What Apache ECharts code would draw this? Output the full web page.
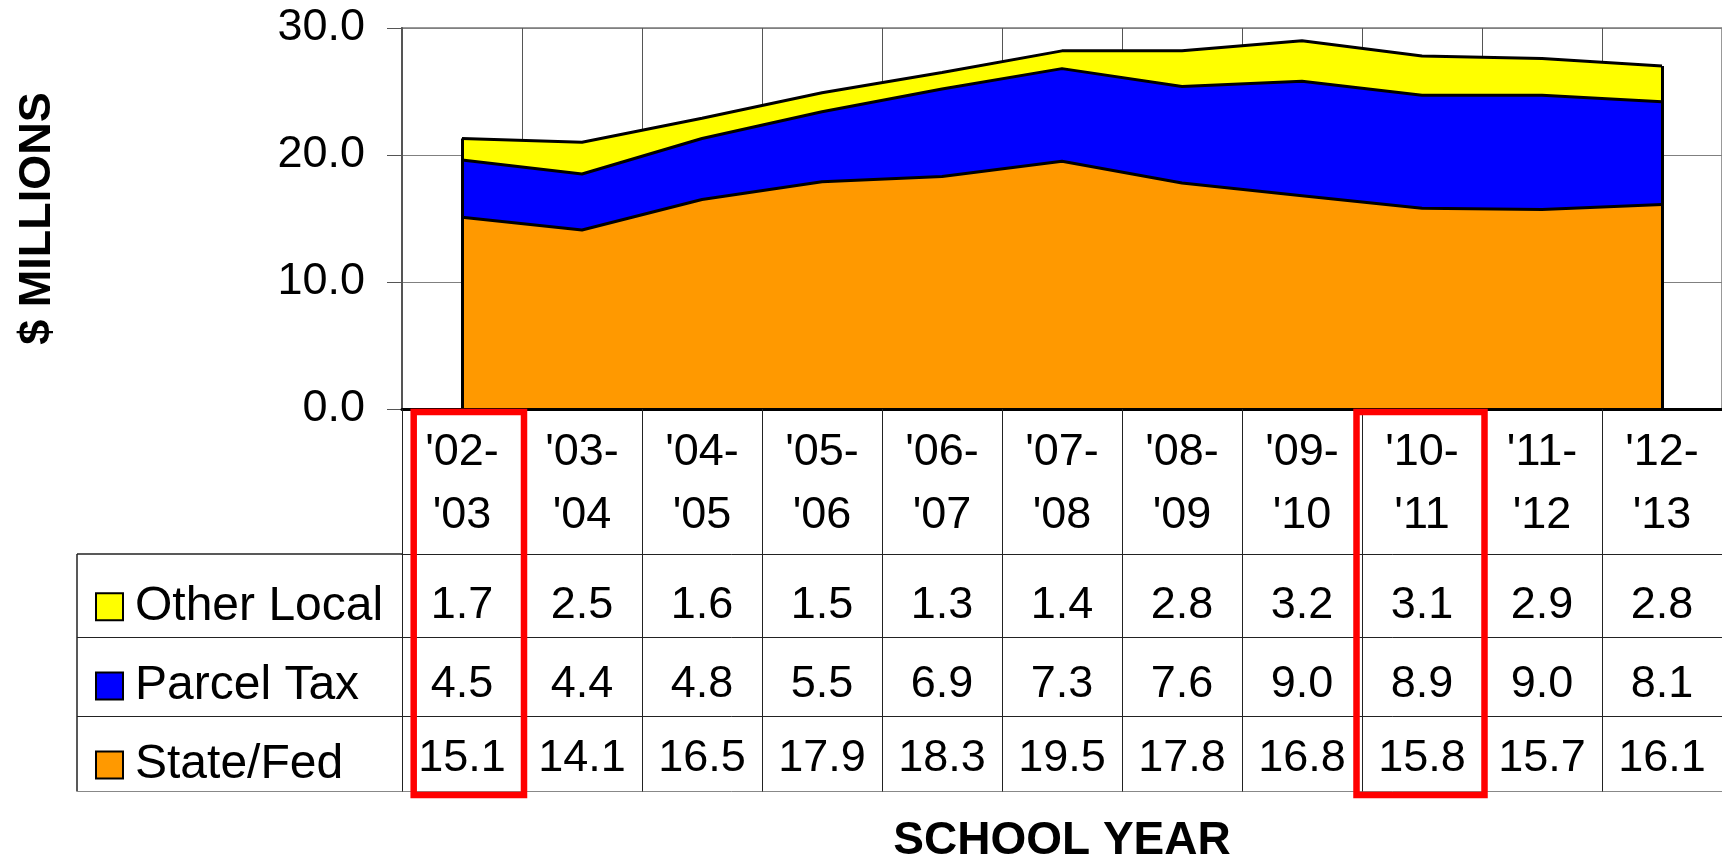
<!DOCTYPE html>
<html>
<head>
<meta charset="utf-8">
<script src="https://cdn.jsdelivr.net/npm/echarts@6/dist/echarts.min.js"></script>
<style>
  html, body { margin: 0; padding: 0; background: #fff; }
  #chart { width: 1722px; height: 856px; }
</style>
</head>
<body>
<div id="chart"></div>
<script>
// school years on the x axis
var years = ["'02-'03", "'03-'04", "'04-'05", "'05-'06", "'06-'07", "'07-'08",
             "'08-'09", "'09-'10", "'10-'11", "'11-'12", "'12-'13"];
// $ millions
var otherLocal = [1.7, 2.5, 1.6, 1.5, 1.3, 1.4, 2.8, 3.2, 3.1, 2.9, 2.8];
var parcelTax  = [4.5, 4.4, 4.8, 5.5, 6.9, 7.3, 7.6, 9.0, 8.9, 9.0, 8.1];
var stateFed   = [15.1, 14.1, 16.5, 17.9, 18.3, 19.5, 17.8, 16.8, 15.8, 15.7, 16.1];
// columns boxed in red
var boxedYears = ["'02-'03", "'10-'11"];

var FONT = "'Liberation Sans', Arial, sans-serif";
var axisBottom = 409;                       // pixel y of the 0.0 line
var rowLines = [554, 637.5, 716.5, 791.5];   // table row borders

var totals = years.map(function (y, i) {
    return +(stateFed[i] + parcelTax[i] + otherLocal[i]).toFixed(1);
});

function rowAxis(values, top, bottom, margin, extra) {
    var ax = {
        type: 'category',
        data: years,
        position: 'bottom',
        offset: top - axisBottom,
        axisLine: { show: true, lineStyle: { color: '#222', width: 1 } },
        axisTick: { show: true, interval: 0, length: bottom - top, lineStyle: { color: '#222', width: 1 } },
        axisLabel: {
            show: !!values, interval: 0, margin: margin,
            color: '#000', fontSize: 45, lineHeight: 45, fontFamily: FONT,
            formatter: function (v, i) { return values ? values[i].toFixed(1) : ''; }
        },
        splitLine: { show: false }
    };
    return Object.assign(ax, extra || {});
}

var chart = echarts.init(document.getElementById('chart'));

var legends = [
    ['Other Local', (rowLines[0] + rowLines[1]) / 2 + 6],
    ['Parcel Tax', (rowLines[1] + rowLines[2]) / 2 + 4],
    ['State/Fed', (rowLines[2] + rowLines[3]) / 2 + 6]
].map(function (l) {
    return {
        data: [l[0]],
        left: 90, top: l[1] - 24,
        icon: 'rect', itemWidth: 27, itemHeight: 27,
        itemStyle: { borderColor: '#000', borderWidth: 2 },
        selectedMode: false,
        textStyle: { color: '#000', fontSize: 48, lineHeight: 48, fontFamily: FONT, padding: [0, 0, 0, 7] }
    };
});

var option = {
    animation: false,
    backgroundColor: '#fff',
    legend: legends,
    grid: {
        left: 402, right: 0, top: 28, bottom: 856 - axisBottom,
        outerBoundsMode: 'none', containLabel: false,
        show: true, borderColor: '#999', borderWidth: 2
    },
    xAxis: [
        {
            type: 'category',
            data: years,
            boundaryGap: true,
            z: 5,
            axisLine: { show: true, lineStyle: { color: '#000', width: 3 } },
            axisTick: { show: true, interval: 0, length: rowLines[0] - axisBottom, lineStyle: { color: '#222', width: 1 } },
            axisLabel: {
                interval: 0, margin: 12, color: '#000', fontSize: 45, lineHeight: 63, fontFamily: FONT,
                formatter: function (v) { return v.replace('-', '-\n'); }
            },
            splitLine: { show: false }
        },
        rowAxis(otherLocal, rowLines[0], rowLines[1], 29, {
            splitLine: { show: true, interval: 0, lineStyle: { color: '#555', width: 1 } }
        }),
        rowAxis(parcelTax, rowLines[1], rowLines[2], 25),
        rowAxis(stateFed, rowLines[2], rowLines[3], 20),
        rowAxis(null, rowLines[3], rowLines[3] + 1, 0, {
            axisTick: { show: false },
            axisLine: { show: true, lineStyle: { color: '#888', width: 1 } },
            name: 'SCHOOL YEAR', nameLocation: 'middle', nameGap: 27,
            nameTextStyle: { color: '#000', fontSize: 46, fontWeight: 'bold', fontFamily: FONT, verticalAlign: 'top' }
        })
    ],
    yAxis: {
        type: 'value',
        min: 0, max: 30, interval: 10,
        name: '$ MILLIONS', nameLocation: 'middle', nameGap: 342,
        nameTextStyle: { color: '#000', fontSize: 45, fontWeight: 'bold', fontFamily: FONT },
        axisLine: { show: true, lineStyle: { color: '#555', width: 2 } },
        axisTick: { show: true, length: 15, lineStyle: { color: '#555', width: 1 } },
        axisLabel: {
            margin: 37, color: '#000', fontSize: 45, fontFamily: FONT,
            formatter: function (v) { return v.toFixed(1); }
        },
        splitLine: { show: true, lineStyle: { color: '#808080', width: 1 } }
    },
    series: [
        {
            name: 'State/Fed', type: 'line', stack: 'total', data: stateFed,
            color: '#FF9900', showSymbol: false, symbol: 'none',
            lineStyle: { color: '#000', width: 3 },
            areaStyle: { color: '#FF9900', opacity: 1 },
            markLine: {
                silent: true, symbol: 'none', label: { show: false },
                lineStyle: { color: '#000', width: 3, type: 'solid' },
                data: [
                    [{ coord: [0, 0] }, { coord: [0, totals[0]] }],
                    [{ coord: [years.length - 1, 0] }, { coord: [years.length - 1, totals[years.length - 1]] }]
                ]
            }
        },
        {
            name: 'Parcel Tax', type: 'line', stack: 'total', data: parcelTax,
            color: '#0000FF', showSymbol: false, symbol: 'none',
            lineStyle: { color: '#000', width: 3 },
            areaStyle: { color: '#0000FF', opacity: 1 }
        },
        {
            name: 'Other Local', type: 'line', stack: 'total', data: otherLocal,
            color: '#FFFF00', showSymbol: false, symbol: 'none',
            lineStyle: { color: '#000', width: 3 },
            areaStyle: { color: '#FFFF00', opacity: 1 }
        }
    ]
};

chart.setOption(option);

// table frame for the legend column + red highlight boxes
var axisX = chart.convertToPixel({ xAxisIndex: 0 }, 0) - 60;
var legendLeft = 77;
var graphics = [{
    type: 'line', silent: true,
    shape: { x1: legendLeft, y1: rowLines[0], x2: legendLeft, y2: rowLines[3] },
    style: { stroke: '#222', lineWidth: 1.5 }
}];
rowLines.forEach(function (y, i) {
    graphics.push({
        type: 'line', silent: true,
        shape: { x1: legendLeft, y1: y, x2: axisX, y2: y },
        style: { stroke: i === 3 ? '#888' : '#222', lineWidth: i === 0 ? 1.5 : 1 }
    });
});
var boxPad = [[-48.3, 62], [-65.5, 62.5]];
boxedYears.forEach(function (yr, k) {
    var cx = chart.convertToPixel({ xAxisIndex: 0 }, yr);
    graphics.push({
        type: 'rect', silent: true, z: 100,
        shape: { x: cx + boxPad[k][0], y: 412, width: boxPad[k][1] - boxPad[k][0], height: 795 - 412 },
        style: { fill: 'none', stroke: '#FF0000', lineWidth: 6.5 }
    });
});
chart.setOption({ graphic: graphics });
</script>
</body>
</html>
